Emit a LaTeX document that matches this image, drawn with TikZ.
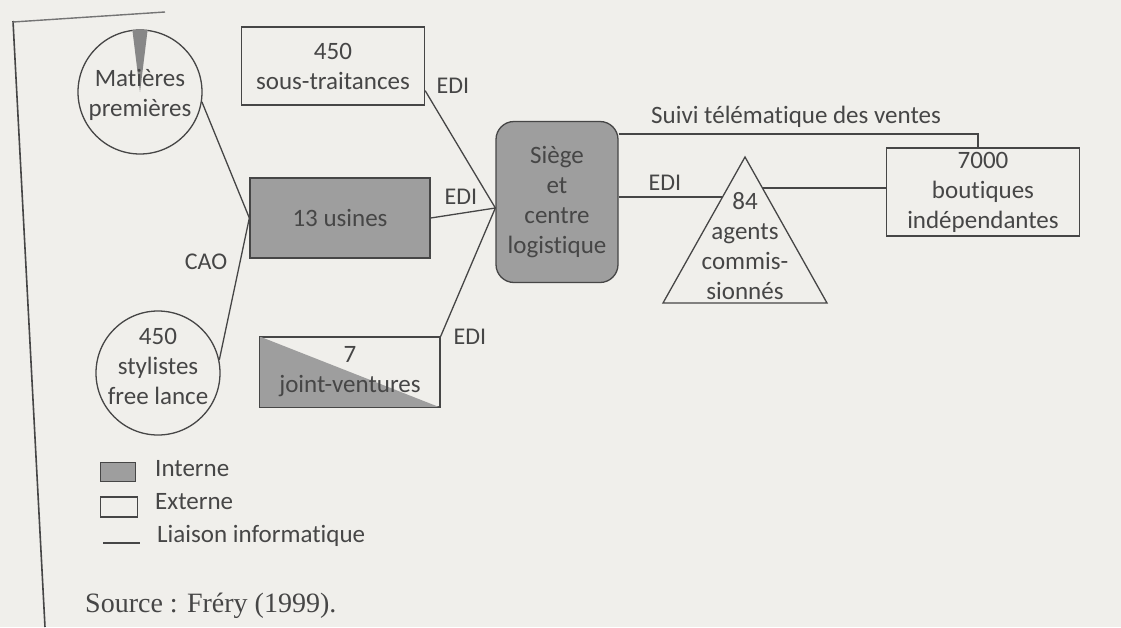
\documentclass[tikz,border=0pt]{standalone}
\usepackage{fontspec}
\setmainfont{Carlito}[Ligatures=NoCommon]
\newfontfamily\srcfont{Liberation Serif}
\usetikzlibrary{calc}
\definecolor{paper}{RGB}{240,239,235}
\definecolor{ink}{RGB}{70,70,70}
\definecolor{greyfill}{RGB}{158,158,158}
\definecolor{wedgefill}{RGB}{135,135,135}

\begin{document}
\begin{tikzpicture}[x=1pt,y=-1pt,
  every node/.style={text=ink, inner sep=0pt, align=center,
    font=\fontsize{25}{30}\selectfont},
  link/.style={draw=ink, line width=1.3pt},
  boxext/.style={draw=ink, line width=1.3pt, rectangle},
  boxint/.style={boxext, fill=greyfill},
  disc/.style={draw=ink, line width=1.3pt, circle, minimum size=124pt},
  lab/.style={font=\fontsize{24}{28}\selectfont}
]
\fill[paper] (0,0) rectangle (1121,627);
\useasboundingbox (0,0) rectangle (1121,627);

% figure frame
\draw[ink, line width=1.6pt] (13,21) -- (45,627);
\draw[ink!75, line width=1.4pt] (13,22) -- (165,12);

% left column: raw materials and designers
\node[disc] (mat) at (140,92) {};
\fill[wedgefill] (mat.center) -- (mat.83) -- (mat.97) -- cycle;
\node (matT) at (140,95) {Matières\\premières};

\node[disc] (styl) at (158,373) {};
\node (stylT) at (158,366) {450\\stylistes\\free lance};

% suppliers and plants
\node[boxext, minimum width=183pt, minimum height=78pt] (sous) at (333,66) {450\\sous-traitances};
\node[boxint, minimum width=180pt, minimum height=80pt] (usines) at (340,218) {13 usines};

\node[boxext, minimum width=180pt, minimum height=70pt] (jv) at (350,372) {};
\fill[greyfill] (jv.north west) -- (jv.south east) -- (jv.south west) -- cycle;
\draw[ink, line width=1.3pt] (jv.north west) rectangle (jv.south east);
\node (jvT) at (350,372) {7\\joint-ventures};

% headquarters
\node[boxint, rounded corners=18pt, minimum width=122pt, minimum height=161pt] (siege) at (557,202)
  {Siège\\et\\centre\\logistique};
\coordinate (hub) at ([yshift=-6pt]siege.west);

% commissioned agents (triangle)
\coordinate (agA) at (745,157);
\coordinate (agL) at (663,303);
\coordinate (agR) at (827,303);
\draw[link, line join=miter] (agA) -- (agL) -- (agR) -- cycle;
\node (agents) at (745,246) {84\\agents\\commis-\\sionnés};
\coordinate (agW) at ($(agA)!0.274!(agL)$);
\coordinate (agE) at ($(agA)!0.212!(agR)$);

% shops
\node[boxext, minimum width=193pt, minimum height=88pt] (bout) at (983,192)
  {7000\\boutiques\\indépendantes};

% links
\draw[link] (mat.-9) -- (usines.west);
\draw[link] (styl.12) -- (usines.west);
\node[lab] (cao) at (206,262) {CAO};

\draw[link] ([yshift=15pt]sous.south east) -- (hub);
\draw[link] (usines.east) -- (hub);
\draw[link] (jv.north east) -- (hub);
\node[lab] (edi1) at (453,86) {EDI};
\node[lab] (edi2) at (461,197) {EDI};
\node[lab] (edi3) at (470,337) {EDI};

\draw[link] (siege.east |- agW) -- (agW);
\node[lab] (edi4) at (665,183) {EDI};
\draw[link] (agE) -- (bout.west |- agE);

\coordinate (sv) at (978,134);
\draw[link] (siege.east |- sv) -- (sv) -- (sv |- bout.north);
\node (suivi) at (796,117) {Suivi télématique des ventes};

% legend
\node[draw=ink, line width=1.3pt, fill=greyfill, minimum width=35pt, minimum height=19pt] (lgI) at (118,472) {};
\node[anchor=west] (lgIt) at (155,469) {Interne};
\node[draw=ink, line width=1.3pt, minimum width=37pt, minimum height=20pt] (lgE) at (119,507) {};
\node[anchor=west] (lgEt) at (155,502) {Externe};
\coordinate (lgA) at (103,543);
\coordinate (lgB) at (140,543);
\draw[link] (lgA) -- (lgB);
\node[anchor=west] (lgLt) at (157,536) {Liaison informatique};

\node[anchor=west, font=\srcfont\fontsize{28}{30}\selectfont] (src) at (85,606) {Source : Fréry (1999).};
\end{tikzpicture}
\end{document}
